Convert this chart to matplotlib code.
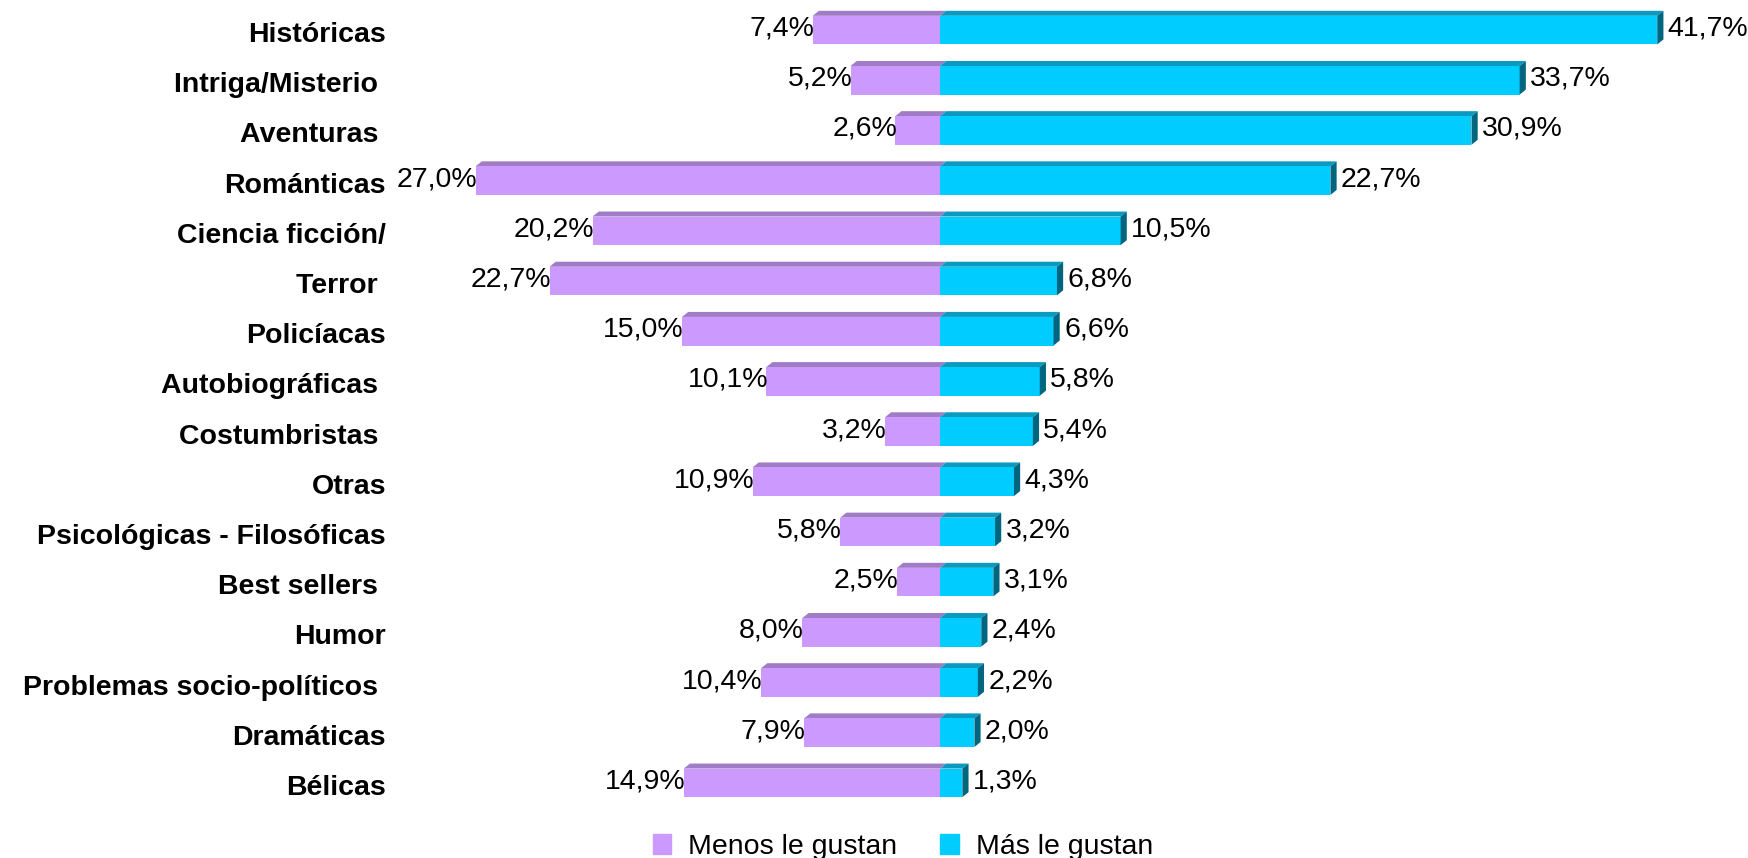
import numpy as np
import matplotlib.pyplot as plt
from matplotlib.patches import Patch

plt.rcParams['font.family'] = ['Liberation Sans', 'DejaVu Sans']

categorias = ["Históricas", "Intriga/Misterio ", "Aventuras ", "Románticas", "Ciencia ficción/",
              "Terror ", "Policíacas", "Autobiográficas ", "Costumbristas ", "Otras",
              "Psicológicas - Filosóficas", "Best sellers ", "Humor", "Problemas socio-políticos ",
              "Dramáticas", "Bélicas"]
menos = [7.4, 5.2, 2.6, 27.0, 20.2, 22.7, 15.0, 10.1, 3.2, 10.9, 5.8, 2.5, 8.0, 10.4, 7.9, 14.9]
mas = [41.7, 33.7, 30.9, 22.7, 10.5, 6.8, 6.6, 5.8, 5.4, 4.3, 3.2, 3.1, 2.4, 2.2, 2.0, 1.3]
leyenda = ["Menos le gustan", "Más le gustan"]

morado, morado_top = "#CC99FF", "#A07CC6"
cian, cian_top, cian_lado = "#00CCFF", "#0A9AC0", "#006680"

W, H = 1749, 858
fig = plt.figure(figsize=(W / 100, H / 100), dpi=100)

# 0 at ~940 px, 1% ~ 17.2 px
cx, ppu = 940, 17.2
xmin, xmax = -30, 46
ax = fig.add_axes([(cx + xmin * ppu) / W, 1 - 813 / H, (xmax - xmin) * ppu / W, 813 / H])
ax.set_xlim(xmin, xmax)
ax.set_ylim(15.6, -0.6)
ax.axis('off')

y = np.arange(len(categorias))
h = 0.57
dx, dy = 0.36, 0.1

ax.barh(y, [-m for m in menos], height=h, color=morado, zorder=2)
ax.barh(y, mas, height=h, color=cian, zorder=2)

for yi, m, p in zip(y, menos, mas):
    top = yi - h / 2
    bot = yi + h / 2
    # caras superiores
    ax.fill([-m, 0, dx, -m + dx], [top, top, top - dy, top - dy], color=morado_top, lw=0, zorder=1, clip_on=False)
    ax.fill([0, p, p + dx, dx], [top, top, top - dy, top - dy], color=cian_top, lw=0, zorder=1, clip_on=False)
    # cara lateral
    ax.fill([p, p + dx, p + dx, p], [top, top - dy, bot - dy, bot], color=cian_lado, lw=0, zorder=3, clip_on=False)

    ax.text(-m + 0.1, yi - 0.03, f"{m:.1f}%".replace('.', ','), ha='right', va='center', fontsize=20.5, zorder=4)
    ax.text(p + dx + 0.25, yi - 0.03, f"{p:.1f}%".replace('.', ','), ha='left', va='center', fontsize=20.5, zorder=4)

    ax.text(xmin - 38 / ppu, yi + 0.1, categorias[yi], ha='right', va='center', fontsize=20.5,
            fontweight='bold', clip_on=False)

handles = [Patch(color=morado), Patch(color=cian)]
fig.legend(handles, leyenda, loc='center', bbox_to_anchor=(903 / W, 1 - 847 / H), ncol=2, frameon=False,
           fontsize=20.5, handlelength=0.65, handleheight=0.65, handletextpad=0.6, columnspacing=1.5)

fig.savefig("out.png", dpi=100)
